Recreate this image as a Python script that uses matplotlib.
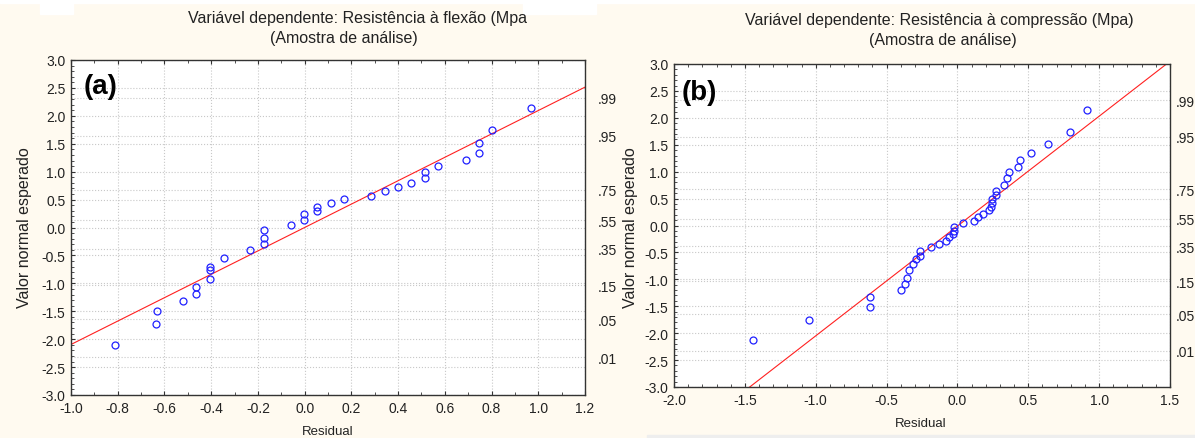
import numpy as np
import matplotlib
matplotlib.use("Agg")
import matplotlib.pyplot as plt
from matplotlib.ticker import MultipleLocator, FormatStrFormatter
from matplotlib.patches import Rectangle

plt.rcParams['font.family'] = ['Liberation Sans', 'DejaVu Sans']
plt.rcParams['axes.unicode_minus'] = False

# panel (a): residual vs expected normal value
res_a = [-0.811, -0.635, -0.633, -0.521, -0.464, -0.464, -0.403, -0.403, -0.403,
         -0.347, -0.232, -0.175, -0.175, -0.172, -0.060, -0.002, -0.002, 0.054,
         0.054, 0.114, 0.170, 0.286, 0.342, 0.400, 0.457, 0.516, 0.516, 0.571,
         0.689, 0.745, 0.745, 0.804, 0.970]
exp_a = [-2.11, -1.73, -1.50, -1.32, -1.19, -1.07, -0.92, -0.77, -0.70,
         -0.55, -0.40, -0.30, -0.18, -0.05, 0.045, 0.13, 0.24, 0.29,
         0.36, 0.43, 0.505, 0.56, 0.654, 0.725, 0.80, 0.88, 0.99, 1.10,
         1.21, 1.34, 1.52, 1.75, 2.14]
line_a = (2.095, 0.0)  # slope, intercept

# panel (b)
res_b = [-1.444, -1.046, -0.615, -0.615, -0.401, -0.371, -0.356, -0.341, -0.311,
         -0.291, -0.261, -0.261, -0.189, -0.127, -0.082, -0.062, -0.032, -0.022,
         -0.022, 0.040, 0.118, 0.147, 0.182, 0.222, 0.237, 0.247, 0.247, 0.272,
         0.272, 0.332, 0.347, 0.367, 0.427, 0.441, 0.516, 0.641, 0.793, 0.915]
exp_b = [-2.13, -1.75, -1.51, -1.33, -1.20, -1.08, -0.97, -0.83, -0.71,
         -0.63, -0.56, -0.48, -0.40, -0.35, -0.28, -0.22, -0.16, -0.10,
         -0.02, 0.04, 0.09, 0.155, 0.22, 0.28, 0.35, 0.42, 0.49, 0.56,
         0.64, 0.76, 0.88, 0.985, 1.08, 1.21, 1.34, 1.52, 1.74, 2.14]
line_b = (2.04, -0.01)

# right axis: cumulative probability labels at normal quantiles
prob_labels = ['.99', '.95', '.75', '.55', '.35', '.15', '.05', '.01']
prob_z = [2.326, 1.645, 0.674, 0.126, -0.385, -1.036, -1.645, -2.326]

titles = ["Variável dependente: Resistência à flexão (Mpa",
          "Variável dependente: Resistência à compressão (Mpa)"]
subtitle = "(Amostra de análise)"

W, H = 1195, 439
bg = '#FFFAF0'
txt = '#222222'
fig = plt.figure(figsize=(W / 100, H / 100), dpi=100, facecolor=bg)

def px(x0, y0, x1, y1):
    return [x0 / W, 1 - y1 / H, (x1 - x0) / W, (y1 - y0) / H]

# white strips at the top (cropped caption area)
for (x0, y0, x1, y1) in [(0, 0, W, 4), (40, 0, 73, 15), (523, 0, 596, 15)]:
    fig.patches.append(Rectangle((x0 / W, 1 - y1 / H), (x1 - x0) / W, (y1 - y0) / H,
                                 transform=fig.transFigure, color='white', zorder=0))
fig.patches.append(Rectangle((647 / W, 0), 1 - 647 / W, 3 / H,
                             transform=fig.transFigure, color='#EEEEEE', zorder=0))

panels = [
    dict(rect=px(71, 61, 585, 396), res=res_a, exp=exp_a, line=line_a,
         xlim=(-1.0, 1.2), xmaj=0.2, tag='(a)', tagpos=(101, 87), rpad=9,
         title=titles[0], tpos=(357, 19), spos=(344, 38), ylx=25, xlpos=(328, 432)),
    dict(rect=px(674, 65, 1170, 388), res=res_b, exp=exp_b, line=line_b,
         xlim=(-2.0, 1.5), xmaj=0.5, tag='(b)', tagpos=(699, 93), rpad=4,
         title=titles[1], tpos=(939, 20), spos=(943, 40), ylx=630, xlpos=(921, 424)),
]

for p in panels:
    ax = fig.add_axes(p['rect'])
    ax.set_facecolor('white')
    ax.set_xlim(*p['xlim'])
    ax.set_ylim(-3.0, 3.0)
    ax.xaxis.set_major_locator(MultipleLocator(p['xmaj']))
    ax.xaxis.set_minor_locator(MultipleLocator(0.1))
    ax.yaxis.set_major_locator(MultipleLocator(0.5))
    ax.yaxis.set_minor_locator(MultipleLocator(0.1))
    ax.xaxis.set_major_formatter(FormatStrFormatter('%.1f'))
    ax.yaxis.set_major_formatter(FormatStrFormatter('%.1f'))
    ax.tick_params(which='both', direction='in', top=True, right=True,
                   color='#333333', labelsize=10, labelcolor=txt)
    ax.tick_params(which='major', length=3, width=0.8)
    ax.tick_params(which='minor', length=2, width=0.6)
    ax.tick_params(axis='y', pad=4)
    ax.tick_params(axis='x', pad=4)
    for s in ax.spines.values():
        s.set_color('#333333')
        s.set_linewidth(1.0)
    ax.grid(True, which='major', color='#C8C8C8', linestyle=':', linewidth=0.8, zorder=0)
    for z in prob_z:
        ax.axhline(z, color='#C8C8C8', linestyle=':', linewidth=0.8, zorder=0)

    xs = np.array(p['xlim'])
    ax.plot(xs, p['line'][0] * xs + p['line'][1], color='#FF2020', lw=0.8, zorder=2)
    ax.plot(p['res'], p['exp'], 'o', mfc='none', mec='#2020FF', mew=0.9, ms=5, zorder=3)

    ax2 = ax.twinx()
    ax2.set_ylim(-3.0, 3.0)
    ax2.set_yticks(prob_z)
    ax2.set_yticklabels(prob_labels)
    ax2.tick_params(axis='y', length=0, pad=p['rpad'], labelsize=10, labelcolor=txt)
    for s in ax2.spines.values():
        s.set_visible(False)

    fig.text(p['tagpos'][0] / W, 1 - p['tagpos'][1] / H, p['tag'], fontsize=20,
             fontweight='bold', ha='center', va='center', color='black')
    fig.text(p['tpos'][0] / W, 1 - p['tpos'][1] / H, p['title'], fontsize=11.5,
             ha='center', va='center', color=txt)
    fig.text(p['spos'][0] / W, 1 - p['spos'][1] / H, subtitle, fontsize=11.5,
             ha='center', va='center', color=txt)
    fig.text(p['ylx'] / W, 1 - 228 / H, 'Valor normal esperado', fontsize=11.5,
             rotation=90, ha='center', va='center', color=txt)
    fig.text(p['xlpos'][0] / W, 1 - p['xlpos'][1] / H, 'Residual', fontsize=9.5,
             ha='center', va='center', color=txt)

fig.savefig('out.png', dpi=100, facecolor=bg)
